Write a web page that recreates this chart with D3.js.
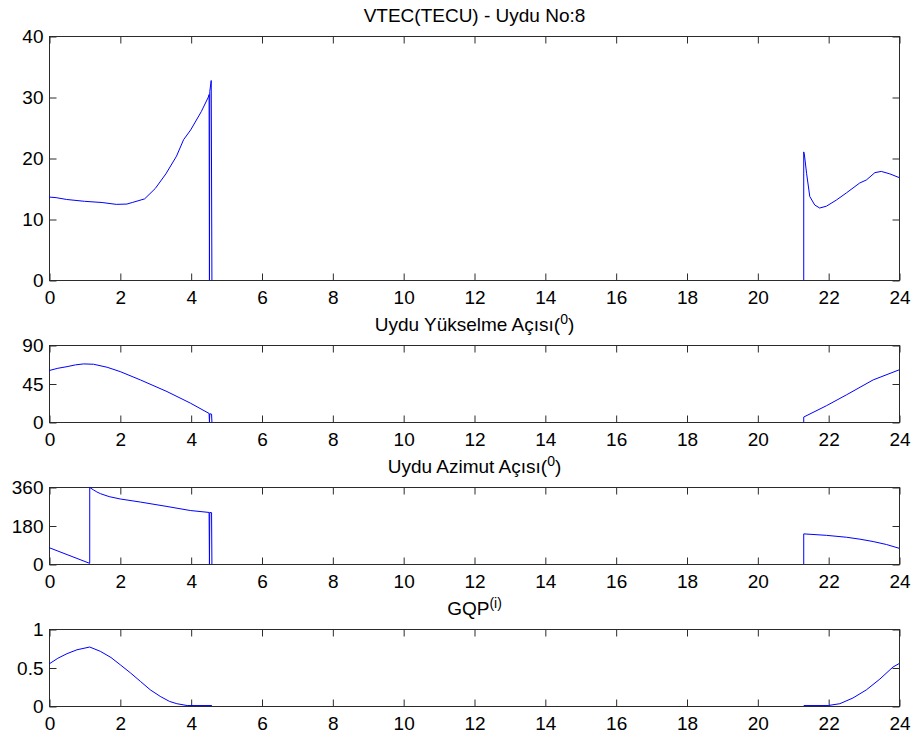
<!DOCTYPE html>
<html>
<head>
<meta charset="utf-8">
<script src="https://cdn.jsdelivr.net/npm/d3@7"></script>
<style>
  body { margin: 0; background: #fff; }
  svg { display: block; font-family: "Liberation Sans", Arial, sans-serif; }
</style>
</head>
<body>
<div id="chart"></div>
<script>
// hours of day (x) and values for each panel; null = no data (gap)
var vtecHours  = [0, 0.2, 0.5, 1.0, 1.5, 1.9, 2.2, 2.35, 2.7, 3.0, 3.3, 3.6, 3.8, 4.0, 4.3, 4.5, 4.52, 4.53, 4.54, 4.58, 4.6, 4.6,
                  21.31, 21.31, 21.33, 21.39, 21.48, 21.62, 21.76, 21.95, 22.23, 22.52, 22.89, 23.08, 23.32, 23.5, 23.74, 24.0];
var vtecValues = [13.6, 13.5, 13.2, 12.9, 12.7, 12.4, 12.45, 12.7, 13.3, 15.0, 17.4, 20.3, 23.0, 24.6, 27.6, 30.0, 30.4, 0, 30.9, 32.7, 0, null,
                  0, 21.0, 20.5, 17.5, 13.7, 12.3, 11.8, 12.1, 13.1, 14.3, 15.9, 16.4, 17.6, 17.8, 17.4, 16.8];

var elevHours  = [0, 0.25, 0.51, 0.75, 0.98, 1.26, 1.64, 2.01, 2.58, 3.33, 3.99, 4.52, 4.53, 4.54, 4.59, 4.6, 4.6,
                  21.31, 21.31, 21.95, 22.52, 23.27, 24.0];
var elevValues = [60.1, 62.8, 64.7, 66.8, 67.9, 67.5, 64.0, 58.9, 49.2, 35.6, 22.1, 10.0, 0, 9.6, 9.2, 0, null,
                  0, 5.8, 19.0, 31.8, 49.2, 60.9];

var azimHours  = [0, 1.15, 1.15, 1.25, 1.35, 1.45, 1.7, 2.01, 2.58, 3.33, 3.99, 4.52, 4.53, 4.54, 4.59, 4.6, 4.6,
                  21.31, 21.31, 21.95, 22.52, 22.9, 23.27, 23.65, 24.0];
var azimValues = [76.5, 3, 358, 347, 337, 329, 315, 304, 289.6, 269, 250, 241, 0, 241, 240, 0, null,
                  0, 140.8, 134, 125, 116, 105, 91, 73.7];

var gqpHours  = [0, 0.25, 0.51, 0.79, 1.15, 1.45, 1.75, 2.01, 2.3, 2.58, 2.86, 3.14, 3.4, 3.61, 3.9, 4.6, 4.6,
                 21.31, 22.0, 22.33, 22.7, 23.08, 23.46, 23.83, 24.0];
var gqpValues = [0.545, 0.62, 0.68, 0.73, 0.766, 0.71, 0.63, 0.536, 0.43, 0.32, 0.21, 0.125, 0.06, 0.03, 0.006, 0.006, null,
                 0.006, 0.006, 0.03, 0.104, 0.21, 0.35, 0.506, 0.55];

var xTicks = [0, 2, 4, 6, 8, 10, 12, 14, 16, 18, 20, 22, 24];

var panels = [
  {title: "VTEC(TECU) - Uydu No:8", sup: null, hours: vtecHours, values: vtecValues, ymax: 40, yticks: [0, 10, 20, 30, 40], top: 36, bottom: 280},
  {title: "Uydu Yükselme Açısı(", sup: "0", hours: elevHours, values: elevValues, ymax: 90, yticks: [0, 45, 90], top: 345, bottom: 422},
  {title: "Uydu Azimut Açısı(", sup: "0", hours: azimHours, values: azimValues, ymax: 360, yticks: [0, 180, 360], top: 487, bottom: 564},
  {title: "GQP", sup: "(i)", hours: gqpHours, values: gqpValues, ymax: 1, yticks: [0, 0.5, 1], top: 629, bottom: 706}
];

var w = 920, h = 738;
var left = 49, right = 899;
var svg = d3.select("#chart").append("svg").attr("width", w).attr("height", h);

var x = d3.scaleLinear().domain([0, 24]).range([left, right]);

panels.forEach(function(p) {
  var y = d3.scaleLinear().domain([0, p.ymax]).range([p.bottom, p.top]);
  var g = svg.append("g");

  g.append("rect")
    .attr("x", left + 0.5).attr("y", p.top + 0.5)
    .attr("width", right - left).attr("height", p.bottom - p.top)
    .attr("fill", "none").attr("stroke", "#2b2b2b").attr("stroke-width", 1);

  var fmt = d3.format("");
  var axB = g.append("g").attr("transform", "translate(0.5," + (p.bottom + 0.5) + ")")
    .call(d3.axisBottom(x).tickValues(xTicks).tickSize(-7).tickSizeOuter(0).tickPadding(10).tickFormat(fmt));
  var axT = g.append("g").attr("transform", "translate(0.5," + (p.top + 0.5) + ")")
    .call(d3.axisTop(x).tickValues(xTicks).tickSize(-7).tickSizeOuter(0).tickFormat(""));
  var axL = g.append("g").attr("transform", "translate(" + (left + 0.5) + ",0.5)")
    .call(d3.axisLeft(y).tickValues(p.yticks).tickSize(-7).tickSizeOuter(0).tickPadding(6).tickFormat(fmt));
  var axR = g.append("g").attr("transform", "translate(" + (right + 0.5) + ",0.5)")
    .call(d3.axisRight(y).tickValues(p.yticks).tickSize(-7).tickSizeOuter(0).tickFormat(""));

  [axB, axT, axL, axR].forEach(function(a) {
    a.select(".domain").remove();
    a.selectAll("line").attr("stroke", "#2b2b2b");
    a.selectAll("text").attr("fill", "#000").attr("font-size", 19)
      .attr("font-family", "'Liberation Sans', Arial, sans-serif");
  });

  var pts = p.hours.map(function(t, i) { return [t, p.values[i]]; });
  var line = d3.line()
    .defined(function(d) { return d[1] != null; })
    .x(function(d) { return x(d[0]); })
    .y(function(d) { return y(d[1]); });

  g.append("path")
    .datum(pts)
    .attr("d", line)
    .attr("fill", "none")
    .attr("stroke", "#0000ff")
    .attr("stroke-width", 1);

  var t = g.append("text")
    .attr("x", (left + right) / 2 + 0.5)
    .attr("y", p.top - 14.5)
    .attr("text-anchor", "middle")
    .attr("font-size", 19)
    .attr("fill", "#000")
    .text(p.title);
  if (p.sup) {
    t.append("tspan").attr("font-size", 14).attr("dy", -7).text(p.sup);
    if (p.sup === "0") t.append("tspan").attr("font-size", 19).attr("dy", 7).text(")");
  }
});
</script>
</body>
</html>
